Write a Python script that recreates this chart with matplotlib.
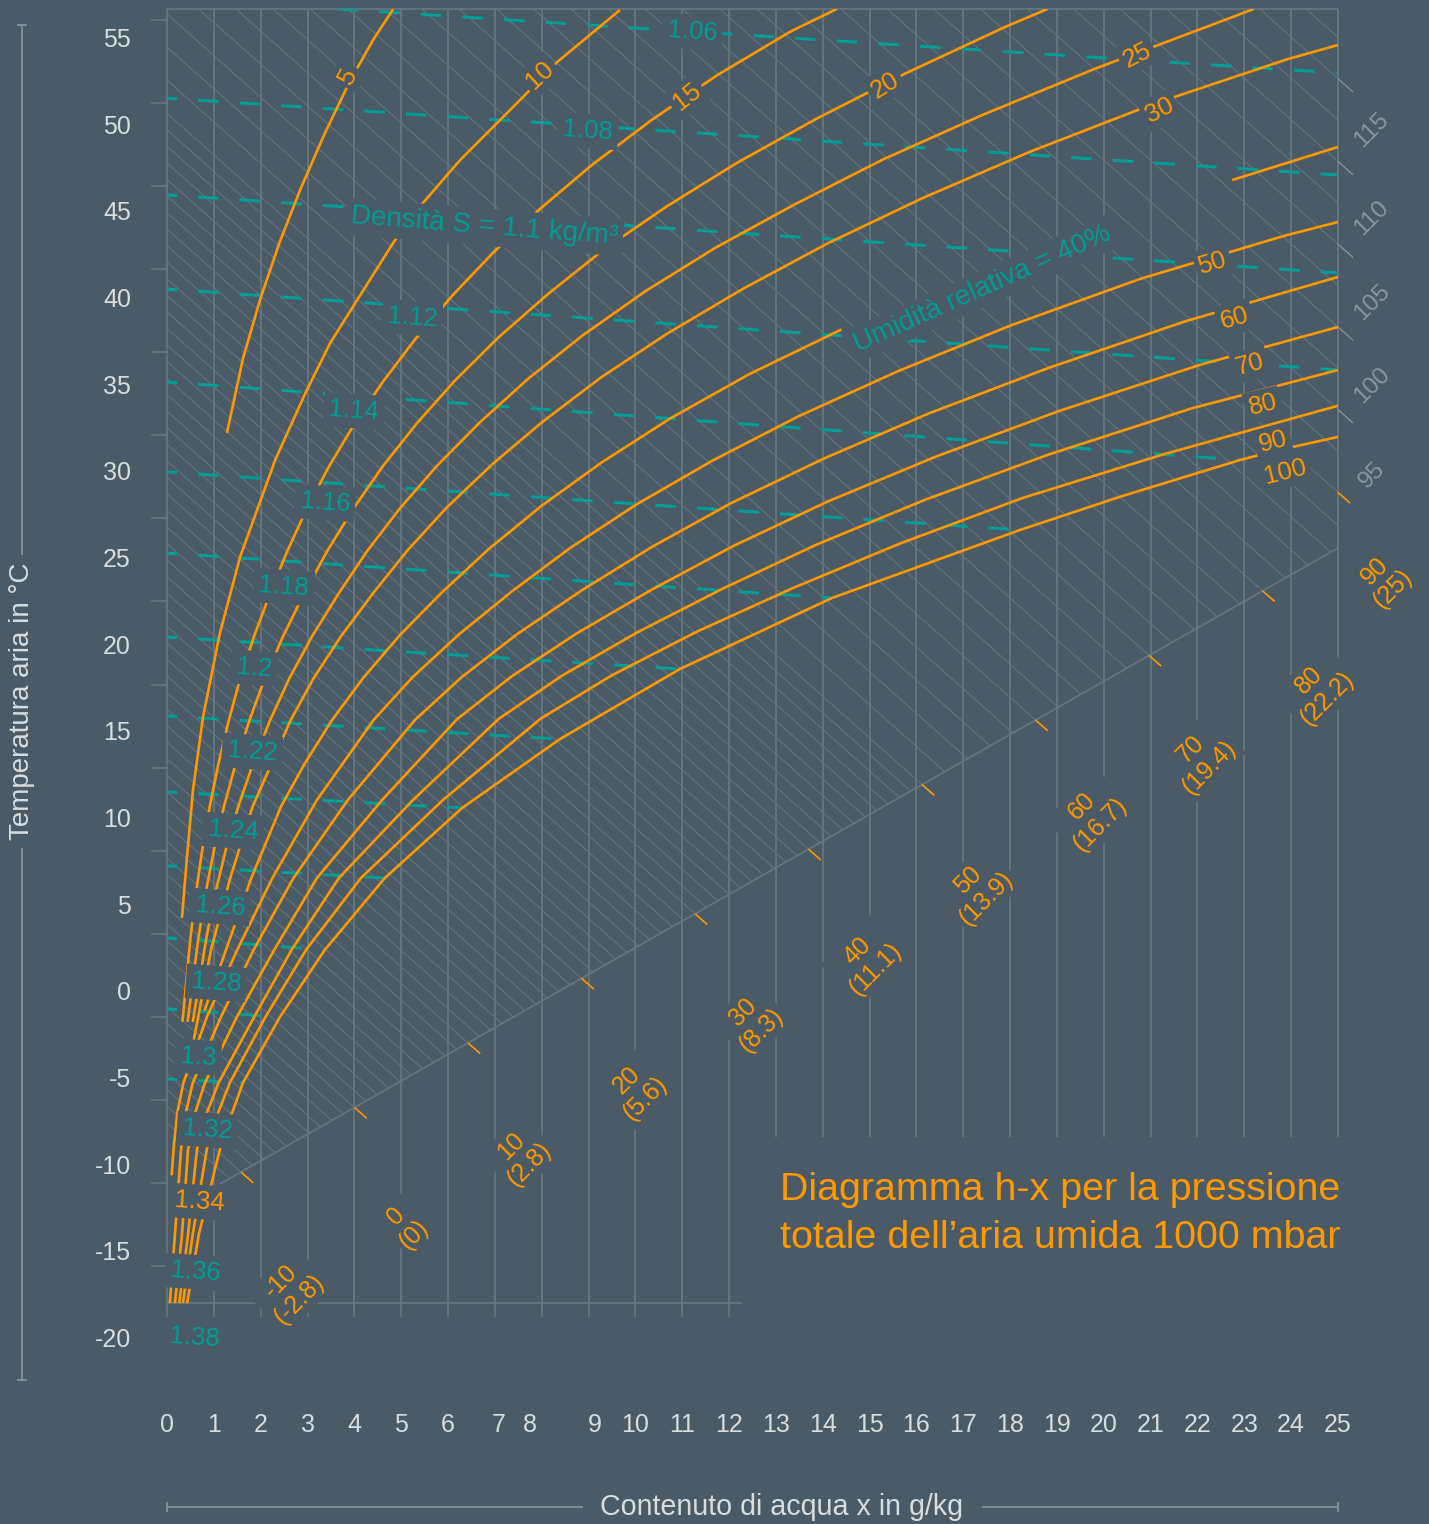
import numpy as np
import matplotlib.pyplot as plt
from matplotlib.collections import LineCollection
from matplotlib.patches import Polygon, Rectangle

plt.rcParams['font.family'] = ['Liberation Sans', 'DejaVu Sans']
plt.rcParams['lines.scale_dashes'] = False
plt.rcParams['lines.solid_capstyle'] = 'butt'

BG = '#4a5a66'
GRID = '#66767f'
HATCH = '#65757f'
ORANGE = '#ff9900'
TEAL = '#009e96'
TEXT = '#d8dde0'
DIM = '#8a979f'

# relative humidity curves: water content x (g/kg) against air temperature (°C)
rh5_x = [1.28, 1.62, 1.985, 2.40, 2.85, 3.35, 3.90, 4.40, 4.83]
rh5_t = [32.33, 36.6, 40.0, 43.3, 46.4, 49.5, 52.6, 55.0, 56.79]
rh10_x = [0.32, 0.427, 0.555, 0.769, 1.13, 1.56, 2.31, 2.95, 3.48, 4.06, 4.83, 5.40, 6.26, 7.60, 8.33, 9.67]
rh10_t = [4.35, 7.87, 11.73, 15.94, 20.79, 25.17, 30.77, 34.6, 37.5, 40.0, 43.3, 45.4, 48.08, 51.71, 53.73, 56.73]
rh15_x = [0.33, 0.50, 0.614, 0.75, 0.911, 1.10, 1.315, 1.56, 1.854, 2.19, 2.555, 2.97, 3.446,
          3.99, 4.605, 5.30, 6.087, 6.97, 7.97, 9.08, 10.34, 11.74, 13.32, 14.3]
rh15_t = [-1.65, 3.19, 5.71, 8.23, 10.75, 13.27, 15.70, 18.13, 20.56, 23.0, 25.43, 27.88, 30.34,
          32.8, 35.27, 37.74, 40.24, 42.75, 45.27, 47.81, 50.37, 52.96, 55.5, 56.79]
rh20_x = [0.44, 0.67, 0.82, 1.00, 1.215, 1.47, 1.755, 2.085, 2.475, 2.92, 3.41, 3.97, 4.605,
          5.33, 6.15, 7.08, 8.15, 9.33, 10.67, 12.16, 13.86, 15.75, 17.89, 18.8]
rh20_t = [-1.65, 3.19, 5.71, 8.23, 10.76, 13.28, 15.71, 18.15, 20.58, 23.02, 25.47, 27.93, 30.40,
          32.87, 35.36, 37.85, 40.38, 42.92, 45.4, 47.9, 50.45, 53.05, 55.75, 56.79]
rh25_x = [0.55, 0.84, 1.025, 1.25, 1.52, 1.84, 2.195, 2.61, 3.098, 3.66, 4.269, 4.97, 5.769,
          6.68, 7.708, 8.88, 10.22, 11.70, 13.39, 15.28, 17.43, 19.82, 22.53, 23.2]
rh25_t = [-1.65, 3.19, 5.72, 8.23, 10.76, 13.28, 15.72, 18.16, 20.60, 23.05, 25.50, 27.97, 30.45,
          32.94, 35.45, 37.97, 40.52, 43.0, 45.5, 48.1, 50.7, 53.35, 56.1, 56.79]
rh30_x = [0.55, 0.94, 1.35, 1.825, 2.635, 3.13, 3.72, 4.40, 5.13, 5.97, 6.94, 8.03, 9.27, 10.69,
          12.30, 14.10, 16.14, 18.43, 21.03, 23.93, 25.0]
rh30_t = [-3.0, 2.51, 6.65, 10.75, 15.73, 18.18, 20.62, 23.08, 25.54, 28.02, 30.51, 33.0, 35.54, 38.08,
          40.65, 43.26, 45.89, 48.56, 51.28, 53.9, 54.71]
rh40_x = [0.80, 1.26, 1.80, 2.435, 2.95, 3.52, 4.19, 4.97, 5.87, 6.86, 7.99, 9.28, 10.74, 12.43, 14.40]
rh40_t = [-1.0, 2.51, 6.65, 10.78, 13.30, 15.75, 18.2, 20.66, 23.13, 25.61, 28.11, 30.63, 33.16, 35.72, 38.3]
rh40b_x = [22.74, 25.0]
rh40b_t = [46.92, 48.83]
rh50_x = [0.10, 0.14, 0.22, 0.35, 0.85, 1.50, 2.25, 3.20, 4.41, 5.24, 6.23, 7.36, 8.60, 10.02,
          11.65, 13.49, 15.62, 18.02, 20.78, 23.85, 25.0]
rh50_t = [-10.5, -9.0, -6.9, -5.17, -1.37, 2.51, 6.65, 11.15, 15.77, 18.23, 20.70, 23.18, 25.68, 28.2,
          30.74, 33.3, 35.91, 38.54, 41.22, 43.7, 44.5]
rh60_x = [0.06, 0.17, 0.30, 0.40, 0.55, 1.15, 1.85, 2.70, 3.86, 5.30, 6.30, 7.48, 8.85, 10.35,
          12.05, 14.03, 16.26, 18.83, 21.74, 25.0]
rh60_t = [-17.87, -13.9, -9.0, -6.9, -5.17, -1.37, 2.51, 6.65, 11.15, 15.79, 18.26, 20.73, 23.24, 25.75,
          28.29, 30.86, 33.45, 36.09, 38.77, 41.33]
rh70_x = [0.17, 0.32, 0.45, 0.60, 0.81, 1.49, 2.29, 3.20, 4.59, 6.19, 7.36, 8.75, 10.35, 12.10,
          14.11, 16.43, 19.05, 22.08, 25.0]
rh70_t = [-17.87, -13.9, -9.0, -6.9, -5.17, -1.37, 2.51, 6.65, 11.15, 15.81, 18.29, 20.77, 23.29, 25.82,
          28.38, 30.98, 33.6, 36.28, 38.44]
rh80_x = [0.26, 0.45, 0.64, 0.85, 1.10, 1.86, 2.66, 3.67, 5.25, 7.08, 8.43, 10.03, 11.86, 13.87,
          16.18, 18.84, 21.88, 25.0]
rh80_t = [-17.87, -13.9, -9.0, -6.9, -5.17, -1.37, 2.51, 6.65, 11.15, 15.83, 18.32, 20.81, 23.34, 25.89,
          28.47, 31.10, 33.75, 35.96]
rh90_x = [0.34, 0.55, 0.85, 1.09, 1.34, 2.10, 2.97, 4.14, 5.89, 7.98, 9.50, 11.30, 13.38, 15.66,
          18.26, 21.28, 25.0]
rh90_t = [-17.87, -13.9, -9.0, -6.9, -5.17, -1.37, 2.51, 6.65, 11.15, 15.85, 18.35, 20.85, 23.4, 25.96,
          28.57, 31.1, 33.9]
rh100_x = [0.43, 0.68, 1.13, 1.39, 1.62, 2.41, 3.37, 4.65, 6.30, 8.39, 10.95, 14.20, 18.21, 20.36,
           22.91, 23.73, 25.0]
rh100_t = [-17.87, -13.9, -9.0, -6.9, -5.17, -1.37, 2.51, 6.65, 10.69, 14.67, 18.71, 22.81, 26.73, 28.66,
           30.77, 31.34, 32.1]

# density lines (kg/m³): start at x = 0, end on the right edge or on saturation
dens_values = [1.06, 1.08, 1.10, 1.12, 1.14, 1.16, 1.18, 1.20, 1.22, 1.24, 1.26, 1.28, 1.30, 1.32]
dens_t_start = [57.42, 51.65, 46.06, 40.63, 35.27, 30.08, 25.40, 20.56, 16.0, 11.62, 7.35, 3.19, -0.90, -4.94]
dens_x_end = [25, 25, 25, 25, 22.91, 18.21, 14.20, 10.95, 8.39, 6.30, 4.65, 3.37, 2.41, 1.62]
dens_t_end = [53.10, 47.21, 41.56, 35.96, 30.77, 26.73, 22.81, 18.71, 14.67, 10.69, 6.65, 2.51, -1.37, -5.17]
dens_labels = ['1.06', '1.08', '1.12', '1.14', '1.16', '1.18', '1.2', '1.22', '1.24',
               '1.26', '1.28', '1.3', '1.32', '1.34', '1.36', '1.38']

# enthalpy scale, kJ/kg with Wh/kg in brackets
enth_ticks = [-10, 0, 10, 20, 30, 40, 50, 60, 70, 80, 90]
enth_wh = ['-2.8', '0', '2.8', '5.6', '8.3', '11.1', '13.9', '16.7', '19.4', '22.2', '25']
enth_edge = [95, 100, 105, 110, 115]

temp_ticks = list(range(55, -25, -5))
water_ticks = list(range(0, 26))

# ---- page geometry (pixels) -------------------------------------------
W, H = 1429, 1524
X0, XS = 167, 46.84     # pixel of x = 0 and pixels per g/kg
Y55, YS = 40, 17.333    # pixel of the 55 °C label and pixels per °C


def px(u):
    return (u - X0) / XS


def py(v):
    return 55 - (v - Y55) / YS


T_TOP = py(9)
T_BASE = py(1303)

# enthalpy lines are straight in this chart: t = E0 + EK*h - ES*x
E0, EK, ES = 3.03, 0.9548, 2.4025


def enth_t(h, x):
    return E0 + EK * h - ES * x


fig = plt.figure(figsize=(W / 100, H / 100), dpi=100)
fig.patch.set_facecolor(BG)
ax = fig.add_axes([0, 0, 1, 1])
ax.set_xlim(px(0), px(W))
ax.set_ylim(py(H), py(0))
ax.axis('off')

frame = Rectangle((0, T_BASE - 1), 25, T_TOP - T_BASE + 1, transform=ax.transData)
box = dict(boxstyle='square,pad=0.15', fc=BG, ec='none')

# vertical grid
for i in water_ticks:
    bottom = py(1317) if i <= 12 else py(1137)
    ax.plot([i, i], [bottom, T_TOP], color=GRID, lw=1.3, zorder=1)
ax.plot([0, 25], [T_TOP, T_TOP], color=GRID, lw=1.3, zorder=1)
ax.plot([0, px(742)], [T_BASE, T_BASE], color=GRID, lw=1.3, zorder=1)

# enthalpy hatch above the base line
base_a = (px(220), py(1184))
base_b = (25.0, py(548))
h_corner = (base_a[1] - E0 + ES * base_a[0]) / EK
hatch_poly = Polygon([(0, T_TOP), (25, T_TOP), base_b, base_a, (0, enth_t(h_corner, 0))],
                     closed=True, transform=ax.transData)
hatch_levels = np.concatenate([np.arange(-12, 50, 1), np.arange(50, 90, 2), np.arange(90, 121, 2.5)])
segs = [[(0, enth_t(h, 0)), (25, enth_t(h, 25))] for h in hatch_levels]
lc = LineCollection(segs, colors=HATCH, linewidths=0.8, zorder=1)
lc.set_clip_path(hatch_poly)
ax.add_collection(lc)
ax.plot([base_a[0], base_b[0]], [base_a[1], base_b[1]], color=GRID, lw=1.3, zorder=1)

# enthalpy ticks on the base line, labels below it
m = (base_b[1] - base_a[1]) / (base_b[0] - base_a[0])
enth_label_px = [(290, 1290), (405, 1225), (520, 1155), (636, 1089), (752, 1021), (866, 960),
                 (977, 889), (1091, 815), (1200, 758), (1318, 689), (1384, 580)]
for h, wh, (u, v) in zip(enth_ticks, enth_wh, enth_label_px):
    xb = min((E0 + EK * h - base_a[1] + m * base_a[0]) / (m + ES), 25.0)
    tb = enth_t(h, xb)
    ax.plot([xb, xb + 0.26], [tb, tb - 0.62], color=ORANGE, lw=1.2, zorder=2)
    ax.text(px(u), py(v), f'{h}\n({wh})', color=ORANGE, fontsize=18,
            rotation=45, ha='center', va='center', multialignment='center', linespacing=1.1,
            rotation_mode='anchor', zorder=6, bbox=box)

edge_label_y = [475, 385, 302, 218, 130]
for h, v in zip(enth_edge, edge_label_y):
    t25 = enth_t(h, 25)
    ax.plot([25, px(1353)], [t25, enth_t(h, px(1353))], color=DIM, lw=0.9, zorder=1)
    ax.text(px(1372), py(v), str(h), color=DIM, fontsize=17.5, rotation=45,
            ha='center', va='center', rotation_mode='anchor', zorder=6)

# density lines
for t0, x1, t1 in zip(dens_t_start, dens_x_end, dens_t_end):
    ln, = ax.plot([0, x1], [t0, t1], color=TEAL, lw=2.2, ls=(7.6, (14.9, 15.1)), zorder=2)
    ln.set_clip_path(frame)

dens_pos = [(692, 32), (588, 131), (412, 318), (354, 411), (325, 503), (284, 587), (254, 668),
            (252, 752), (233, 831), (220, 907), (216, 983), (198, 1057), (207, 1130),
            (200, 1202), (195, 1272), (195, 1338)]
for lab, (u, v) in zip(dens_labels, dens_pos):
    col = ORANGE if lab == '1.34' else TEAL
    ax.text(px(u), py(v), lab, color=col, fontsize=18.5, rotation=-4, ha='center', va='center',
            rotation_mode='anchor', zorder=6,
            bbox=dict(boxstyle='square,pad=0.2', fc=BG, ec='none'))
ax.text(px(484), py(227), 'Densità S = 1.1 kg/m³', color=TEAL, fontsize=20, rotation=-4.5,
        ha='center', va='center', rotation_mode='anchor', zorder=6,
        bbox=dict(boxstyle='square,pad=0.2', fc=BG, ec='none'))

# relative humidity curves
curves = [(rh5_x, rh5_t), (rh10_x, rh10_t), (rh15_x, rh15_t), (rh20_x, rh20_t),
          (rh25_x, rh25_t), (rh30_x, rh30_t), (rh40_x, rh40_t), (rh40b_x, rh40b_t),
          (rh50_x, rh50_t), (rh60_x, rh60_t), (rh70_x, rh70_t), (rh80_x, rh80_t),
          (rh90_x, rh90_t), (rh100_x, rh100_t)]
for cx, ct in curves:
    ln, = ax.plot(cx, ct, color=ORANGE, lw=1.9, zorder=3, solid_joinstyle='round')
    ln.set_clip_path(frame)

rh_labels = ['5', '10', '15', '20', '25', '30', '50', '60', '70', '80', '90', '100']
rh_label_pos = [(348, 76), (540, 75), (687, 97), (885, 85), (1137, 55), (1160, 110),
                (1213, 263), (1235, 318), (1250, 365), (1263, 405), (1273, 442), (1285, 472)]
rh_label_rot = [62, 43, 38, 32, 27, 27, 17, 16, 15, 14, 14, 14]
for lab, (u, v), r in zip(rh_labels, rh_label_pos, rh_label_rot):
    ax.text(px(u), py(v), lab, color=ORANGE, fontsize=18.5, rotation=r, ha='center', va='center',
            rotation_mode='anchor', zorder=6, bbox=box)
ax.text(px(982), py(289), 'Umidità relativa = 40%', color=TEAL, fontsize=20, rotation=24,
        ha='center', va='center', rotation_mode='anchor', zorder=6, bbox=box)

# axes: tick labels, small tick marks and guide lines around the axis titles
for t in temp_ticks:
    ax.text(px(131), t, str(t), color=TEXT, fontsize=18, ha='right', va='center')
for v in np.linspace(20, 1266, 16):
    ax.plot([px(151), 0], [py(v), py(v)], color=GRID, lw=1.2, zorder=1)
nudge = {7: 4, 8: -12, 9: 6}
for i in water_ticks:
    ax.text(i + nudge.get(i, 0) / XS, py(1425), str(i), color=TEXT, fontsize=18,
            ha='center', va='center')

ax.text(px(22), py(701), 'Temperatura aria in °C', color=TEXT, fontsize=20,
        rotation=90, ha='center', va='center')
ax.plot([px(22), px(22)], [py(25), py(555)], color=DIM, lw=1.2)
ax.plot([px(22), px(22)], [py(848), py(1380)], color=DIM, lw=1.2)
ax.plot([px(17), px(27)], [py(25), py(25)], color=DIM, lw=1.2)
ax.plot([px(17), px(27)], [py(1380), py(1380)], color=DIM, lw=1.2)

ax.text(px(781), py(1507), 'Contenuto di acqua x in g/kg', color=TEXT, fontsize=20.6,
        ha='center', va='center')
ax.plot([0, px(583)], [py(1507), py(1507)], color=DIM, lw=1.2)
ax.plot([px(982), 25], [py(1507), py(1507)], color=DIM, lw=1.2)
ax.plot([0, 0], [py(1502), py(1512)], color=DIM, lw=1.2)
ax.plot([25, 25], [py(1502), py(1512)], color=DIM, lw=1.2)

ax.text(px(780), py(1190), 'Diagramma h-x per la pressione', color=ORANGE, fontsize=28.4,
        ha='left', va='center')
ax.text(px(780), py(1238), 'totale dell\u2019aria umida 1000 mbar', color=ORANGE, fontsize=28.4,
        ha='left', va='center')

fig.savefig('out.png', dpi=100, facecolor=BG)
